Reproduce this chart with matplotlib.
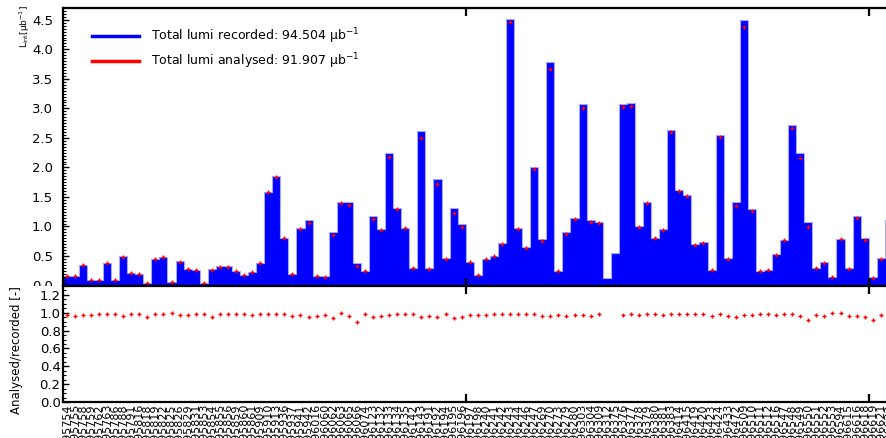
import numpy as np
import matplotlib
matplotlib.use('Agg')
import matplotlib.pyplot as plt
from matplotlib.ticker import MultipleLocator, FormatStrFormatter
from matplotlib.lines import Line2D
from matplotlib.patches import Rectangle

plt.rcParams['font.family'] = ['DejaVu Sans']

# Run numbers (one bin per run)
runs = [295754, 295755, 295758, 295759, 295762, 295763, 295786, 295788, 295791, 295816,
        295818, 295819, 295822, 295825, 295826, 295829, 295831, 295853, 295854, 295855,
        295856, 295859, 295860, 295861, 295909, 295910, 295913, 295936, 295937, 295941,
        295942, 296016, 296060, 296062, 296063, 296065, 296066, 296074, 296123, 296132,
        296133, 296134, 296135, 296142, 296143, 296191, 296192, 296194, 296195, 296196,
        296197, 296198, 296240, 296241, 296242, 296243, 296244, 296246, 296247, 296269,
        296270, 296273, 296279, 296280, 296303, 296304, 296309, 296312, 296375, 296376,
        296377, 296378, 296379, 296380, 296381, 296383, 296414, 296415, 296419, 296420,
        296423, 296424, 296433, 296472, 296509, 296510, 296511, 296512, 296516, 296547,
        296548, 296549, 296550, 296551, 296552, 296553, 296594, 296615, 296616, 296618,
        296619, 296621, 296622]

# recorded lumi per run [ub^-1]
recorded = [0.166, 0.166, 0.347, 0.093, 0.09, 0.381, 0.093, 0.505, 0.217, 0.195,
            0.037, 0.454, 0.488, 0.065, 0.41, 0.285, 0.263, 0.037, 0.285, 0.325,
            0.325, 0.246, 0.183, 0.234, 0.381, 1.59, 1.86, 0.805, 0.2, 0.98,
            1.11, 0.166, 0.155, 0.907, 1.41, 1.41, 0.376, 0.25, 1.178, 0.963,
            2.24, 1.31, 0.98, 0.30, 2.61, 0.29, 1.80, 0.46, 1.31, 1.04,
            0.40, 0.18, 0.45, 0.50, 0.715, 4.52, 0.97, 0.647, 2.0, 0.78,
            3.79, 0.25, 0.90, 1.15, 3.07, 1.11, 1.08, 0.12, 0.545, 3.08,
            3.09, 1.01, 1.42, 0.805, 0.963, 2.63, 1.62, 1.53, 0.70, 0.73,
            0.27, 2.55, 0.47, 1.41, 4.50, 1.29, 0.25, 0.27, 0.534, 0.77,
            2.71, 2.24, 1.07, 0.30, 0.40, 0.14, 0.78, 0.29, 1.18, 0.81,
            0.14, 0.46, 1.11]

# analysed / recorded (nan = run not analysed)
ratio = [.98, .969, .98, .973, .984, .984, .984, .961, .984, .984,
         .958, .984, .984, .995, .98, .98, .984, .984, .95, .984,
         .984, .984, .984, .973, .984, .991, .991, .991, .969, .973,
         .954, .961, .976, .946, .995, .961, .898, .991, .958, .969,
         .973, .987, .991, .991, .958, .965, .954, .991, .943, .954,
         .98, .98, .98, .987, .984, .987, .987, .987, .984, .965,
         .969, .973, .969, .98, .98, .965, .987, np.nan, np.nan, .98,
         .984, .98, .984, .991, .98, .987, .991, .987, .991, .991,
         .965, .984, .969, .958, .973, .98, .984, .984, .976, .991,
         .984, .965, .924, .973, .961, .995, .999, .965, .969, .954,
         .916, .976, .98]

recorded = np.array(recorded)
ratio = np.array(ratio)
analysed = np.nan_to_num(recorded * ratio)
edges = np.arange(len(runs) + 1)
centers = edges[:-1] + 0.5

W, H = 886, 438
fig = plt.figure(figsize=(W / 100, H / 100), dpi=100)
x0, x1 = 62.7, 892.9


def box(top, bottom):
    return [x0 / W, 1 - bottom / H, (x1 - x0) / W, (bottom - top) / H]


ax = fig.add_axes(box(8, 285.5))
ax.set_zorder(0)
ax.stairs(recorded, edges, fill=True, color='#0000ff')
ax.stairs(recorded, edges, color='#a8a8ff', lw=0.8)
ax.plot(centers, analysed, ls='none', marker='+', color='red', ms=3.5, mew=1)
ax.set_xlim(0, len(runs))
ax.set_ylim(0, 4.70)

ax.yaxis.set_major_locator(MultipleLocator(0.5))
ax.yaxis.set_minor_locator(MultipleLocator(0.05))
ax.yaxis.set_major_formatter(FormatStrFormatter('%.1f'))
ax.tick_params(axis='y', which='both', direction='in', left=True, right=True, labelsize=9.5, pad=7)
ax.tick_params(axis='y', which='major', length=4.5, width=1)
ax.tick_params(axis='y', which='minor', length=2.2, width=0.8)
ax.set_xticks([50, 100])
ax.tick_params(axis='x', which='major', direction='in', top=True, bottom=True,
               length=6, width=1.6, labelbottom=False)
for s in ax.spines.values():
    s.set_linewidth(1.6)

ax.set_ylabel('L$_{\\mathrm{int}}$[μb$^{-1}$]', fontsize=6.5, loc='top')
ax.yaxis.set_label_coords(-0.037, 1.01)

handles = [Line2D([], [], color='#0000ff', lw=2.5), Line2D([], [], color='red', lw=2.5)]
labels = ['Total lumi recorded: 94.504 μb$^{-1}$', 'Total lumi analysed: 91.907 μb$^{-1}$']
ax.legend(handles, labels, loc='upper left', bbox_to_anchor=(92 / W, 1 - 26 / H),
          bbox_transform=fig.transFigure, frameon=False, fontsize=9,
          borderpad=0, borderaxespad=0, handlelength=3.76, handletextpad=0.95,
          labelspacing=0.45)

# white pad covering the lower part of the figure (as in ROOT)
fig.add_artist(Rectangle((0, 0), 1, 1 - 286 / H, transform=fig.transFigure,
                         facecolor='white', edgecolor='none', zorder=0.5))

ax2 = fig.add_axes(box(286, 402))
ax2.set_zorder(1)
ax2.plot(centers, ratio, ls='none', marker='+', color='red', ms=3.5, mew=1)
ax2.set_xlim(0, len(runs))
ax2.set_ylim(0, 1.30)
ax2.yaxis.set_major_locator(MultipleLocator(0.2))
ax2.yaxis.set_minor_locator(MultipleLocator(0.05))
ax2.yaxis.set_major_formatter(FormatStrFormatter('%.1f'))
ax2.tick_params(axis='y', which='both', direction='in', left=True, right=True, labelsize=9.5, pad=1.5)
ax2.tick_params(axis='y', which='major', length=4.5, width=1)
ax2.tick_params(axis='y', which='minor', length=2.2, width=0.8)
ax2.set_xticks([50, 100], labels=['', ''])
ax2.tick_params(axis='x', which='major', direction='in', top=True, bottom=True,
                length=6, width=1.6)
ax2.set_xticks(centers, labels=[str(r) for r in runs], minor=True)
ax2.tick_params(axis='x', which='minor', length=0, labelrotation=90, labelsize=8, pad=1.5)
for s in ax2.spines.values():
    s.set_linewidth(1.6)
ax2.set_ylabel('Analysed/recorded [-]', fontsize=8.5)
ax2.yaxis.set_label_coords(-0.048, 0.45)

fig.savefig('out.png', dpi=100)
